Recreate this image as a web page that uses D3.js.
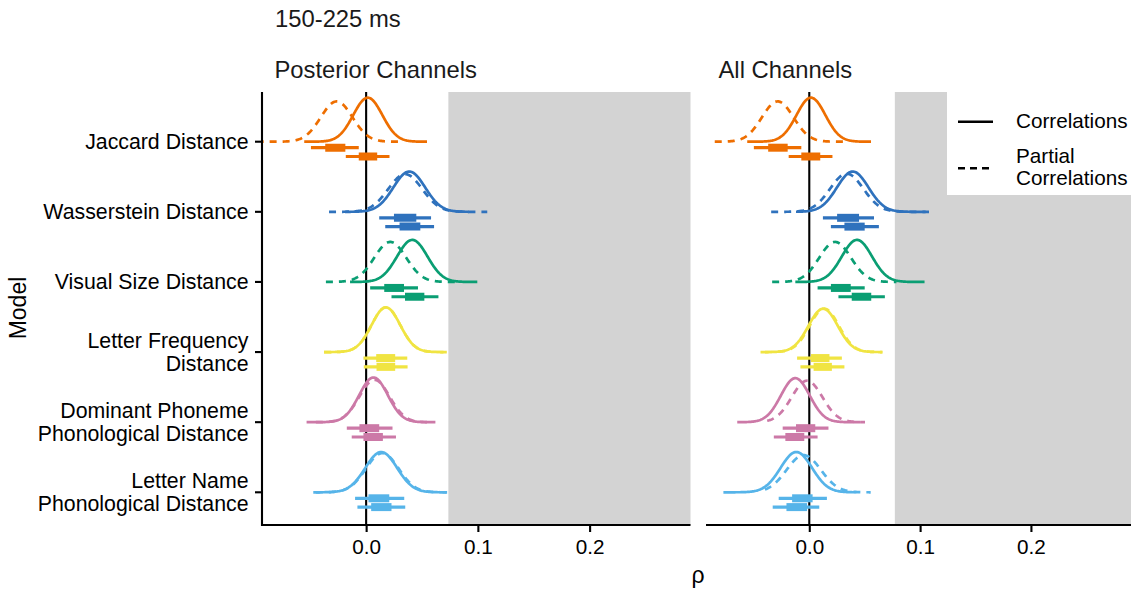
<!DOCTYPE html>
<html>
<head>
<meta charset="utf-8">
<script src="https://cdn.jsdelivr.net/npm/d3@7"></script>
<style>
  html, body { margin: 0; padding: 0; background: #fff; }
  svg { display: block; font-family: "Liberation Sans", Arial, Helvetica, sans-serif; }
</style>
</head>
<body>
<svg id="chart" width="1131" height="589"></svg>
<script>
// ---------------- data ----------------
const models = ["Jaccard Distance", "Wasserstein Distance", "Visual Size Distance",
  "Letter Frequency\nDistance", "Dominant Phoneme\nPhonological Distance", "Letter Name\nPhonological Distance"];
const modelColors = ["#EE6E00", "#2F72BD", "#0A9E73", "#F0E442", "#CC79A7", "#56B4E9"];
const panelTitles = ["Posterior Channels", "All Channels"];
const ceilingStart = [0.0736, 0.0772];
const xTickValues = [0.0, 0.1, 0.2];
const xTickLabels = ["0.0", "0.1", "0.2"];
const plotTitle = "150-225 ms";
const legendLabels = ["Correlations", "Partial\nCorrelations"];

// Posterior Channels — correlations (solid)
const postCorrMean = [0.0015, 0.0386, 0.0413, 0.0177, 0.0066, 0.0135];
const postCorrSd   = [0.0130, 0.0142, 0.0136, 0.0128, 0.0128, 0.0142];
const postCorrLo   = [-0.0554, -0.019, -0.0144, -0.0377, -0.0533, -0.0473];
const postCorrHi   = [0.0545, 0.092, 0.0995, 0.0722, 0.062, 0.0725];
// [thin lo, thin hi, thick lo, thick hi]
const postCorrInt  = [[-0.0182, 0.0209, -0.0066, 0.0099], [0.0171, 0.0608, 0.0299, 0.0485],
  [0.0227, 0.0647, 0.0348, 0.0521], [-0.0021, 0.0371, 0.0093, 0.026],
  [-0.0129, 0.0267, -0.0024, 0.015], [-0.0078, 0.035, 0.0045, 0.0227]];
// Posterior Channels — partial correlations (dashed)
const postPartMean = [-0.0264, 0.035, 0.0216, 0.0177, 0.0075, 0.0145];
const postPartSd   = [0.0142, 0.0152, 0.0143, 0.0128, 0.0135, 0.0146];
const postPartLo   = [-0.098, -0.0332, -0.036, -0.0377, -0.045, -0.045];
const postPartHi   = [0.0305, 0.1084, 0.080, 0.0722, 0.058, 0.072];
const postPartInt  = [[-0.0494, -0.0066, -0.0366, -0.0186], [0.0117, 0.0581, 0.0249, 0.0449],
  [0.0036, 0.0464, 0.0162, 0.0339], [-0.0024, 0.0368, 0.009, 0.026],
  [-0.0173, 0.0236, -0.006, 0.0117], [-0.0099, 0.0341, 0.0021, 0.0207]];

// All Channels — correlations (solid)
const allCorrMean = [0.0015, 0.0392, 0.043, 0.0125, -0.0126, -0.0117];
const allCorrSd   = [0.0130, 0.0142, 0.0136, 0.0132, 0.0130, 0.0142];
const allCorrLo   = [-0.056, -0.012, -0.0126, -0.044, -0.065, -0.0775];
const allCorrHi   = [0.0557, 0.108, 0.104, 0.066, 0.0458, 0.0428];
const allCorrInt  = [[-0.0186, 0.0209, -0.0072, 0.0099], [0.0195, 0.0628, 0.0317, 0.050],
  [0.0263, 0.0682, 0.0383, 0.0559], [-0.008, 0.0317, 0.0039, 0.0204],
  [-0.032, 0.0075, -0.0216, -0.0045], [-0.033, 0.009, -0.0206, -0.002]];
// All Channels — partial correlations (dashed)
const allPartMean = [-0.0285, 0.0338, 0.0233, 0.0135, -0.002, -0.005];
const allPartSd   = [0.0142, 0.0150, 0.0143, 0.0132, 0.0138, 0.0154];
const allPartLo   = [-0.0853, -0.0344, -0.0335, -0.040, -0.038, -0.040];
const allPartHi   = [0.031, 0.105, 0.0787, 0.066, 0.0503, 0.0554];
const allPartInt  = [[-0.050, -0.0072, -0.0371, -0.0195], [0.0123, 0.0584, 0.0251, 0.0449],
  [0.0075, 0.050, 0.0195, 0.0374], [-0.011, 0.0294, 0.0015, 0.0182],
  [-0.024, 0.0173, -0.012, 0.0054], [-0.0276, 0.0159, -0.0155, 0.003]];

// ---------------- layout ----------------
const svg = d3.select("#chart");
const panelTop = 92, panelBottom = 525;
const panelRanges = [[262, 690.5], [706, 1131]];
const xDomain = [-0.0932, 0.2903];
const densityPx = 1.434;   // px per unit of density
const axisFont = 20.7, titleFont = 23.8;

const y = d3.scalePoint().domain(models).range([141.7, 492.3]).padding(0);

const panels = [
  { corr: [postCorrMean, postCorrSd, postCorrLo, postCorrHi, postCorrInt],
    part: [postPartMean, postPartSd, postPartLo, postPartHi, postPartInt] },
  { corr: [allCorrMean, allCorrSd, allCorrLo, allCorrHi, allCorrInt],
    part: [allPartMean, allPartSd, allPartLo, allPartHi, allPartInt] }
];

function normPdf(v, m, s) {
  const z = (v - m) / s;
  return Math.exp(-0.5 * z * z) / (s * Math.sqrt(2 * Math.PI));
}

panels.forEach((p, pi) => {
  const x = d3.scaleLinear().domain(xDomain).range(panelRanges[pi]);
  const g = svg.append("g");
  const clipId = "clip" + pi;
  svg.append("clipPath").attr("id", clipId).append("rect")
    .attr("x", panelRanges[pi][0]).attr("y", panelTop - 10)
    .attr("width", panelRanges[pi][1] - panelRanges[pi][0]).attr("height", panelBottom - panelTop + 10);

  // grey region beyond ceiling
  g.append("rect")
    .attr("x", x(ceilingStart[pi])).attr("y", panelTop)
    .attr("width", x(xDomain[1]) - x(ceilingStart[pi]))
    .attr("height", panelBottom - panelTop)
    .attr("fill", "#D3D3D3");

  // zero line
  g.append("line").attr("x1", x(0)).attr("x2", x(0))
    .attr("y1", panelTop).attr("y2", panelBottom)
    .attr("stroke", "#000").attr("stroke-width", 2.1);

  const marks = g.append("g").attr("clip-path", `url(#${clipId})`);

  const drawSet = (set, dashed, offset) => {
    const [means, sds, los, his, ints] = set;
    models.forEach((m, i) => {
      const base = y(m);
      const n = 160;
      const pts = d3.range(n + 1).map(k => {
        const v = los[i] + (his[i] - los[i]) * k / n;
        return [v, normPdf(v, means[i], sds[i])];
      });
      const line = d3.line().x(d => x(d[0])).y(d => base - densityPx * d[1]).curve(d3.curveLinear);
      marks.append("path").attr("d", line(pts))
        .attr("fill", "none").attr("stroke", modelColors[i])
        .attr("stroke-width", 2.7)
        .attr("stroke-dasharray", dashed ? "7,6" : null);
      const iv = ints[i];
      const iy = base + offset;
      marks.append("line").attr("x1", x(iv[0])).attr("x2", x(iv[1]))
        .attr("y1", iy).attr("y2", iy).attr("stroke", modelColors[i]).attr("stroke-width", 3.2);
      marks.append("line").attr("x1", x(iv[2])).attr("x2", x(iv[3]))
        .attr("y1", iy).attr("y2", iy).attr("stroke", modelColors[i]).attr("stroke-width", 8);
    });
  };
  drawSet(p.part, true, 6);
  drawSet(p.corr, false, 14.8);

  // x axis
  const xAxis = d3.axisBottom(x).tickValues(xTickValues)
    .tickFormat((d, i) => xTickLabels[i]).tickSize(7).tickSizeOuter(0);
  const ax = svg.append("g").attr("transform", `translate(0,${panelBottom})`).call(xAxis);
  ax.select(".domain").attr("stroke", "#000").attr("stroke-width", 2.1)
    .attr("d", `M${panelRanges[pi][0]},0H${panelRanges[pi][1]}`);
  ax.selectAll(".tick line").attr("stroke", "#000").attr("stroke-width", 2.1);
  ax.selectAll(".tick text").attr("font-size", axisFont).attr("fill", "#000")
    .attr("dy", null).attr("y", 29);

  // facet title
  svg.append("text").attr("x", panelRanges[pi][0] + 12.5).attr("y", 78)
    .attr("font-size", titleFont).attr("fill", "#1a1a1a").text(panelTitles[pi]);
});

// y axis (left panel only)
const yAxis = svg.append("g");
yAxis.append("line").attr("x1", 262).attr("x2", 262).attr("y1", panelTop).attr("y2", panelBottom + 1)
  .attr("stroke", "#000").attr("stroke-width", 2.1);
models.forEach(m => {
  const yy = y(m);
  yAxis.append("line").attr("x1", 255).attr("x2", 262).attr("y1", yy).attr("y2", yy)
    .attr("stroke", "#000").attr("stroke-width", 2.1);
  const lines = m.split("\n");
  const lh = 22.7;
  const t = yAxis.append("text").attr("text-anchor", "end").attr("font-size", 21.3).attr("fill", "#000");
  lines.forEach((ln, k) => {
    t.append("tspan").attr("x", 248.5)
      .attr("y", yy + 7.5 + (k - (lines.length - 1) / 2) * lh).text(ln);
  });
});

// titles
svg.append("text").attr("x", 275).attr("y", 26.7).attr("font-size", titleFont).attr("fill", "#1a1a1a").text(plotTitle);
svg.append("text").attr("transform", "translate(26,308) rotate(-90)").attr("text-anchor", "middle")
  .attr("font-size", 23).attr("fill", "#000").text("Model");
svg.append("text").attr("x", 698).attr("y", 583).attr("text-anchor", "middle")
  .attr("font-size", 23).attr("fill", "#000").text("ρ");

// legend
const lg = svg.append("g");
lg.append("rect").attr("x", 947).attr("y", panelTop).attr("width", 184).attr("height", 103).attr("fill", "#fff");
const legendY = [121.7, 168.3];
legendLabels.forEach((lab, i) => {
  lg.append("line").attr("x1", 958).attr("x2", 993).attr("y1", legendY[i]).attr("y2", legendY[i])
    .attr("stroke", "#000").attr("stroke-width", 2.6)
    .attr("stroke-dasharray", i === 1 ? "7,5" : null);
  const lines = lab.split("\n");
  const t = lg.append("text").attr("font-size", axisFont).attr("fill", "#000");
  lines.forEach((ln, k) => {
    t.append("tspan").attr("x", 1016)
      .attr("y", legendY[i] + 6 + (k - (lines.length - 1) / 2) * 22.3).text(ln);
  });
});
</script>
</body>
</html>
